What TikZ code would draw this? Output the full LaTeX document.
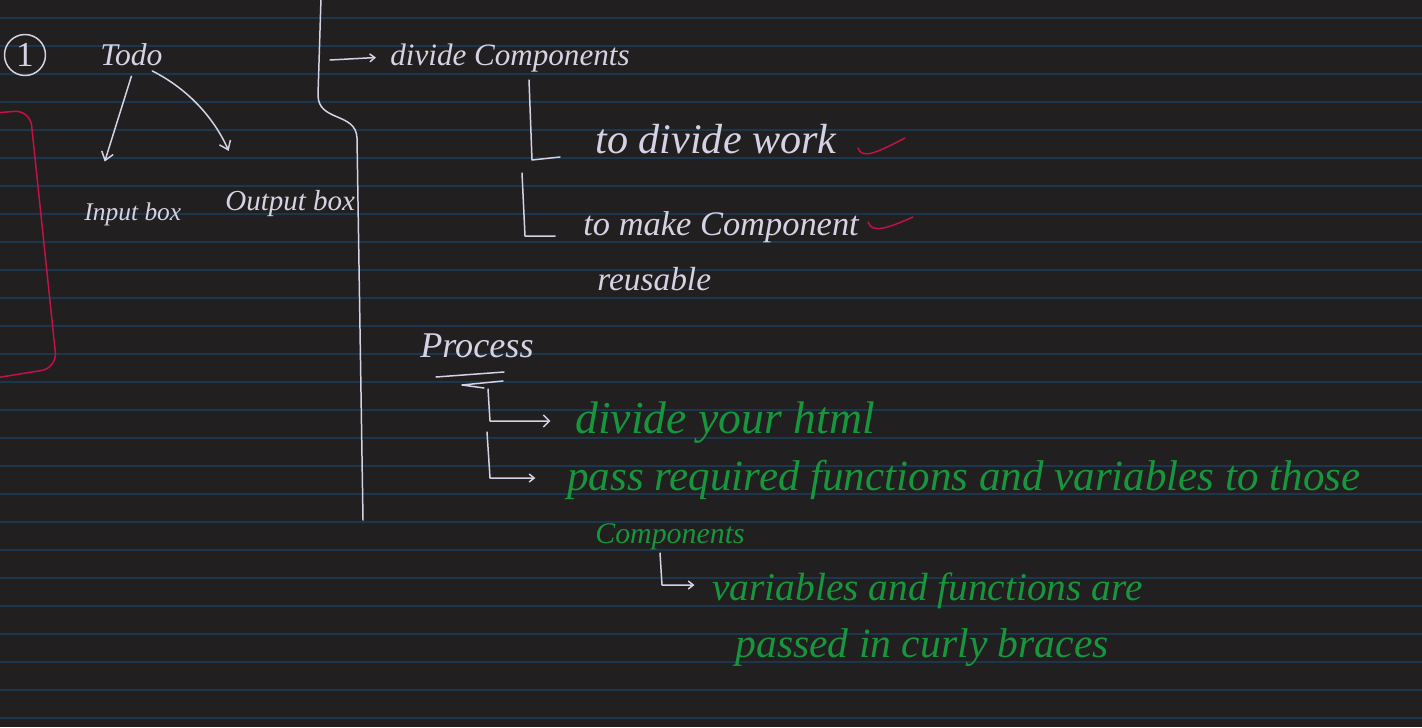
\documentclass[tikz,border=0pt]{standalone}
\usepackage{fontspec}
\setmainfont{Liberation Serif}
\usetikzlibrary{arrows.meta,positioning}

\definecolor{board}{RGB}{33,31,31}
\definecolor{ruling}{RGB}{28,54,78}
\definecolor{chalk}{RGB}{214,210,228}
\definecolor{penred}{RGB}{196,18,70}
\definecolor{pengreen}{RGB}{24,150,62}

\begin{document}
\begin{tikzpicture}[
  x=0.02cm, y=-0.02cm,
  hand/.style={font=\itshape\fontsize{#1}{#1}\selectfont,inner sep=0pt,anchor=base west},
  white/.style={text=chalk},
  green/.style={text=pengreen},
  pen/.style={draw=chalk,line width=0.85pt,line cap=round,line join=round},
  redpen/.style={draw=penred,line width=0.85pt,line cap=round,line join=round},
  arrow/.style={pen,-{Straight Barb[length=1.6mm,width=2.4mm]}}
]
% board and ruling
\fill[board] (0,0) rectangle (1422,727);
\useasboundingbox (0,0) rectangle (1422,727);
\foreach \k in {0,...,25}
  \draw[ruling,line width=0.6pt] (0,18+28*\k) -- (1422,18+28*\k);

% left part
\node[pen,circle,minimum size=0.82cm,inner sep=0pt,text=chalk,font=\fontsize{20}{20}\selectfont] (one) at (25,55) {1};
\node[hand=18,white] (todo) at (100,65) {Todo};
\node[hand=14.5,white] (inbox) at (84,220) {Input box};
\node[hand=16.5,white] (outbox) at (225,210) {Output box};
\draw[arrow] ([yshift=-6pt]todo.south) -- ([xshift=-16pt,yshift=23pt]inbox.north);
\draw[arrow] ([xshift=-6pt,yshift=-3pt]todo.south east) .. controls (190,90) and (215,120) .. ([xshift=-35pt,yshift=22pt]outbox.north);
\draw[redpen,rounded corners=9pt] (-5,113) -- (30,110) -- (57,368) -- (-5,378);

% brace
\draw[pen] (321,-2) -- (318,95) .. controls (318,122) and (356,112) .. (357,138) -- (363,520);
\coordinate (bracetip) at (330,60);

% divide components
\node[hand=17.7,white] (divcomp) at (390,65) {divide Components};
\draw[arrow,-{Straight Barb[length=1mm,width=1.6mm]}] (bracetip) -- ([xshift=-8pt]divcomp.west);
\node[hand=24,white] (work) at (595,153) {to divide work};
\node[hand=19.6,white] (reuse) at (583,235) {to make Component};
\node[hand=19,white] (reuse2) at (597,290) {reusable};
\draw[pen] (529,80) -- (532,160) -- (560,157);
\draw[pen] (522,173) -- (525,236) -- (555,236);
\draw[redpen] (858,148) .. controls (862,160) and (878,152) .. (905,138);
\draw[redpen] (868,222) .. controls (872,234) and (888,228) .. (913,217);

% process
\node[hand=20.6,white] (process) at (420,357) {Process};
\draw[pen] (436,377) -- (504,372);
\draw[pen] (503,381) -- (462,385) -- (484,388);
\node[hand=26,green] (html) at (575,433) {divide your html};
\node[hand=24.5,green] (pass) at (567,490) {pass required functions and variables to those};
\node[hand=17,green] (comps) at (595,543) {Components};
\node[hand=22.4,green] (vars) at (712,600) {variables and functions are};
\node[hand=23.7,green] (braces) at (735,657) {passed in curly braces};
\draw[arrow,-{Straight Barb[length=1.2mm,width=2.4mm]}] (488,389) -- (490,421) -- ([xshift=-14pt]html.west |- 0,421);
\draw[arrow,-{Straight Barb[length=1mm,width=1.6mm]}] (487,432) -- (490,478) -- ([xshift=-18pt]pass.west |- 0,478);
\draw[arrow,-{Straight Barb[length=1mm,width=1.6mm]}] (660,553) -- (662,585) -- ([xshift=-10pt]vars.west |- 0,585);
\end{tikzpicture}
\end{document}
